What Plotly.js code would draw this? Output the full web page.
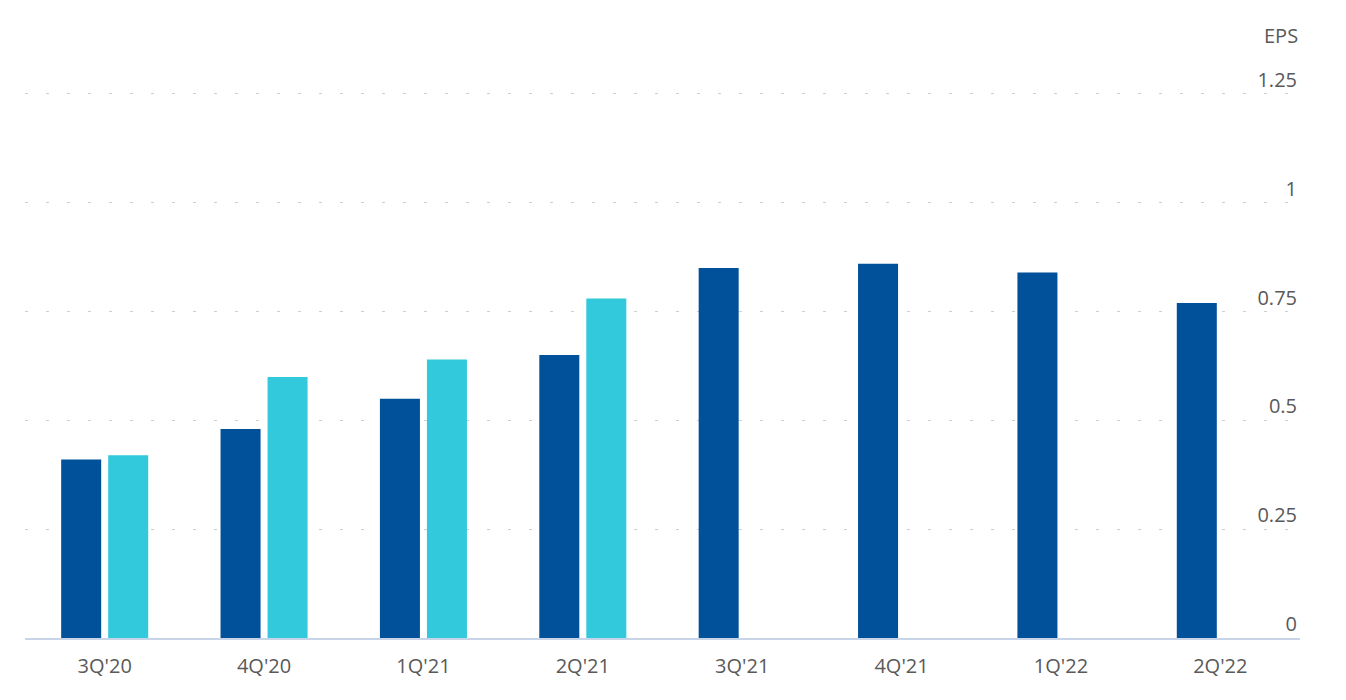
<!DOCTYPE html>
<html>
<head>
<meta charset="utf-8">
<script src="https://cdn.plot.ly/plotly-3.0.1.min.js"></script>
<style>html,body{margin:0;padding:0;background:#fff;}#chart{width:1346px;height:700px;}</style>
</head>
<body>
<div id="chart"></div>
<script>
const quarters = ["3Q'20","4Q'20","1Q'21","2Q'21","3Q'21","4Q'21","1Q'22","2Q'22"];
const epsDark = [0.41, 0.48, 0.55, 0.65, 0.85, 0.86, 0.84, 0.77];
const epsLight = [0.42, 0.60, 0.64, 0.78, null, null, null, null];
const yTicks = [0, 0.25, 0.5, 0.75, 1, 1.25];
const yTickText = ["0", "0.25", "0.5", "0.75", "1", "1.25"];

const font = "'Open Sans', 'Noto Sans', sans-serif";
const traces = [
  {type:'bar', x:quarters, y:epsDark, marker:{color:'#00509a'}, hoverinfo:'skip'},
  {type:'bar', x:quarters, y:epsLight, marker:{color:'#31c9db'}, hoverinfo:'skip'}
];
const layout = {
  width:1346, height:700,
  margin:{l:25, r:46, t:60, b:62},
  paper_bgcolor:'#fff', plot_bgcolor:'#fff',
  showlegend:false,
  barmode:'group', bargap:0.41, bargroupgap:0.149,
  font:{family:font, color:'#595959', size:20},
  xaxis:{
    type:'category', range:[-0.5, quarters.length - 0.5], autorange:false,
    showgrid:false, zeroline:false,
    showline:true, linecolor:'#c8d4e8', linewidth:1.5,
    ticks:'', tickfont:{size:20, color:'#595959'}, ticklabelstandoff:9
  },
  yaxis:{
    range:[0,1.3281], autorange:false, side:'right', tickvals:yTicks, ticktext:yTickText,
    ticklabelposition:'inside', ticklabelshift:-14,
    showgrid:true, gridcolor:'#cfcfcf', griddash:'3px,18px', gridwidth:1,
    zeroline:false, showline:false, ticks:'',
    tickfont:{size:20, color:'#595959'}
  },
  annotations:[{
    text:'EPS', xref:'paper', yref:'paper', x:1, y:1, xanchor:'right', yanchor:'bottom',
    yshift:9, showarrow:false, font:{size:20, color:'#595959'}
  }]
};
Plotly.newPlot('chart', traces, layout, {displayModeBar:false, staticPlot:true});
</script>
</body>
</html>
